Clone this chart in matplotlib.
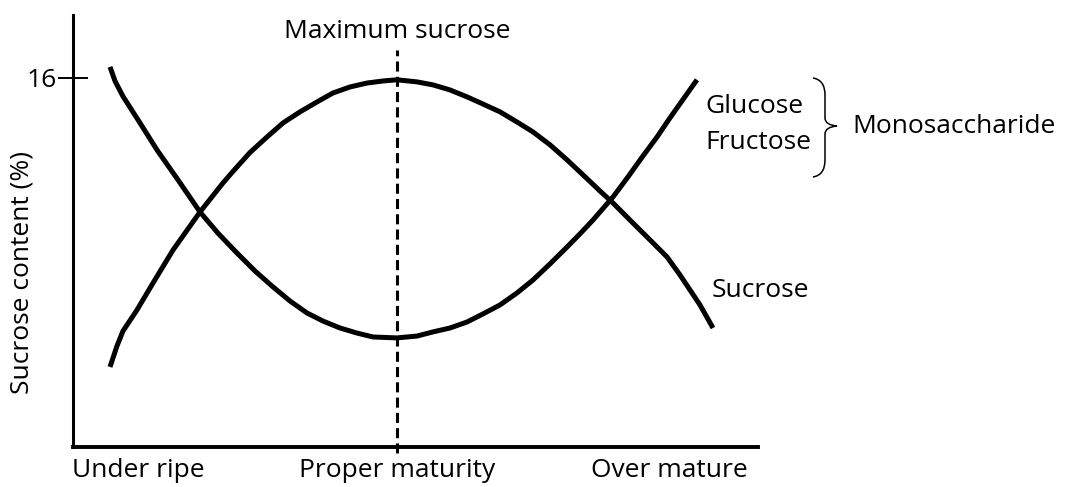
import matplotlib
matplotlib.use("Agg")
import matplotlib.pyplot as plt
from matplotlib.path import Path
from matplotlib.patches import PathPatch

# stage of maturity (arbitrary position along x) and contents
sucrose_x = [5.40, 6.42, 7.30, 9.34, 11.68, 14.60, 18.54, 21.90, 23.36, 25.84,
             28.32, 30.66, 33.14, 35.62, 37.96, 40.44, 42.92, 45.26, 47.30, 50.22,
             52.55, 55.04, 57.52, 59.85, 62.34, 64.82, 67.15, 69.64, 72.12, 74.45,
             76.93, 78.83, 81.75, 84.23, 86.72, 88.61, 90.07, 91.53, 93.43]
sucrose_y = [3.47, 4.38, 5.03, 5.94, 7.11, 8.54, 10.19, 11.45, 11.95, 12.77,
             13.44, 14.05, 14.53, 14.96, 15.35, 15.61, 15.78, 15.87, 15.92, 15.83,
             15.70, 15.48, 15.18, 14.87, 14.53, 14.09, 13.66, 13.10, 12.45, 11.80,
             11.10, 10.58, 9.71, 8.98, 8.24, 7.46, 6.81, 6.16, 5.16]

mono_x = [5.40, 6.13, 7.30, 9.78, 12.26, 15.33, 18.54, 21.17, 23.94, 26.57,
          29.20, 31.68, 34.16, 36.50, 38.98, 41.46, 43.80, 47.30, 50.22, 52.55,
          55.04, 57.52, 59.85, 62.34, 64.82, 67.15, 69.64, 72.12, 74.01, 75.91,
          78.83, 81.02, 83.21, 85.26, 87.15, 91.09]
mono_y = [16.48, 15.87, 15.20, 14.05, 12.88, 11.58, 10.19, 9.27, 8.41, 7.63,
          6.94, 6.33, 5.81, 5.46, 5.16, 4.94, 4.77, 4.73, 4.81, 4.99,
          5.16, 5.42, 5.77, 6.16, 6.68, 7.24, 7.94, 8.67, 9.24, 9.84,
          10.84, 11.71, 12.62, 13.44, 14.27, 15.92]

stage_pos = [9.6, 47.3, 87.0]
stage_labels = ['Under ripe', 'Proper maturity', 'Over mature']
max_sucrose_x = 47.3

plt.rcParams['font.family'] = ['Open Sans', 'DejaVu Sans']
plt.rcParams['font.size'] = 19

fig = plt.figure(figsize=(10.69, 4.87), dpi=100)
ax = fig.add_axes([73 / 1069, 40 / 487, 685 / 1069, 432 / 487])

ax.plot(sucrose_x, sucrose_y, color='black', lw=3.6, solid_capstyle='butt',
        solid_joinstyle='round')
ax.plot(mono_x, mono_y, color='black', lw=3.6, solid_capstyle='butt',
        solid_joinstyle='round')
ax.plot([max_sucrose_x, max_sucrose_x], [-0.26, 17.2], color='black', lw=2.2,
        dashes=(3.3, 1.7), clip_on=False)

ax.set_xlim(0, 100)
ax.set_ylim(0, 18.73)
ax.spines['top'].set_visible(False)
ax.spines['right'].set_visible(False)
ax.spines['left'].set_linewidth(2.2)
ax.spines['bottom'].set_linewidth(2.8)

ax.set_yticks([16])
ax.set_yticklabels(['16'])
ax.tick_params(axis='y', direction='inout', length=21.6, width=1.4, pad=1)
ax.set_xticks(stage_pos)
ax.set_xticklabels(stage_labels)
ax.tick_params(axis='x', length=0, pad=8)

ax.set_ylabel('Sucrose content (%)')
ax.yaxis.set_label_coords(-0.056, 0.405)

ax.text(max_sucrose_x, 18.0, 'Maximum sucrose', ha='center', va='center', clip_on=False)
ax.text(93.3, 6.8, 'Sucrose', ha='left', va='center', clip_on=False)
ax.text(92.3, 14.75, 'Glucose', ha='left', va='center', clip_on=False)
ax.text(92.3, 13.2, 'Fructose', ha='left', va='center', clip_on=False)
ax.text(113.8, 13.9, 'Monosaccharide', ha='left', va='center', clip_on=False)

# curly brace, drawn in pixel units of the figure
def px(x, y):
    return (x / 1069, (487 - y) / 487)

verts = [px(813, 78), px(825, 80), px(825, 95), px(825, 118), px(825, 118),
         px(825, 125), px(837, 126), px(825, 127), px(825, 134),
         px(825, 134), px(825, 160), px(825, 175), px(813, 177)]
codes = [Path.MOVETO, Path.CURVE3, Path.CURVE3, Path.LINETO, Path.LINETO,
         Path.CURVE3, Path.CURVE3, Path.CURVE3, Path.CURVE3,
         Path.LINETO, Path.LINETO, Path.CURVE3, Path.CURVE3]
brace = PathPatch(Path(verts, codes), transform=fig.transFigure, fill=False,
                  lw=1.1, edgecolor='black')
fig.patches.append(brace)

fig.savefig('out.png', dpi=100)
